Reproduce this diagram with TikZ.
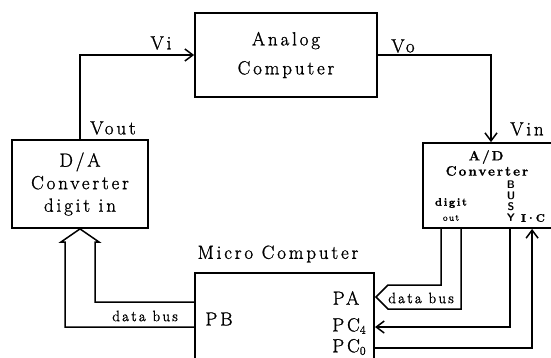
\documentclass[tikz,border=0pt]{standalone}
\usepackage{fontspec}
\setmainfont{Latin Modern Roman}[LetterSpace=15,FakeBold=1.2]
\usetikzlibrary{arrows.meta}
\newcommand\portsub[1]{\raisebox{-2.5pt}{\fontsize{12}{12}\selectfont#1}}
\tikzset{
  box/.style={draw,line width=1.8pt,inner sep=0pt},
  wire/.style={line width=1.5pt,line join=miter},
  sig/.style={wire,-{Straight Barb[length=8pt,width=12pt,line width=1.5pt]}},
  lab/.style={inner sep=0pt,font=\fontsize{19}{22}\selectfont},
  buslab/.style={inner sep=0pt,font=\fontsize{15}{17}\selectfont},
  adlab/.style={inner sep=0pt,font=\fontsize{13.5}{15}\selectfont\bfseries}
}

\begin{document}
\begin{tikzpicture}[x=1pt,y=-1pt]
\useasboundingbox[fill=white] (0,0) rectangle (551,357);
\clip (0,0) rectangle (551,357);

\node[box,lab,align=center,minimum width=182,minimum height=84] (ana) at (286,55) {Analog\\[7pt]Computer};
\node[box,lab,align=center,minimum width=136,minimum height=88] (da) at (80,184) {D/A\\[0.5pt]Converter\\[0.5pt]digit in};
\node[box,minimum width=136,minimum height=85] (ad) at (491,185.5) {};
\node[box,minimum width=179,minimum height=147] (mc) at (284.5,346.5) {};

% text of the A/D box
\node[adlab] (adname) at (486,157) {A/D};
\node[adlab] (adconv) at (487,171) {Converter};
\node[adlab,font=\fontsize{11}{12}\selectfont\bfseries] (dig) at (451,203) {digit};
\node[adlab,font=\fontsize{9}{10}\selectfont] (dout) at (451,218) {out};
\foreach \ch [count=\i] in {B,U,S,Y}
  \node[inner sep=0pt,font=\fontsize{11}{12}\selectfont\sffamily\bfseries] (busy\i) at (511,{174+11*\i}) {\ch};
\node[adlab,font=\fontsize{11}{12}\selectfont\bfseries\addfontfeature{LetterSpace=0}] (ic) at (533,218) {I·C};

\node[lab] (mclab) at (278,254) {Micro Computer};
\node[lab] (vi) at (161,43) {Vi};
\node[lab] (vo) at (403,46) {Vo};
\node[lab] (vout) at (113,128) {Vout};
\node[lab] (vin) at (527,129) {Vin};
\node[lab] (pa) at (346,298) {PA};
\node[lab] (pc4) at (349,326) {PC\portsub{4}};
\node[lab] (pc0) at (349,347) {PC\portsub{0}};
\node[lab] (pb) at (219,319) {PB};
\node[buslab] (busl) at (145,316) {data bus};
\node[buslab] (busr) at (421,298) {data bus};

\coordinate (pbtop) at (195,302);
\coordinate (pbbot) at (195,327);
\coordinate (patip) at (376,297);
\coordinate (pc4in) at (375,327);
\coordinate (pc0out) at (374,348);

\draw[sig] (da.north) |- (ana.west);
\draw[sig] (ana.east) -| (ad.north);
\draw[wire] (pbbot) -| (65,242) -- (61,242) -- (da.south) -- (99,242) -- (95,242) |- (pbtop);
\draw[wire] ([xshift=19pt]ad.south west) |- (388,285) -- (patip) -- (388,309) -| ([xshift=39pt]ad.south west);
\draw[sig] ([xshift=88pt]ad.south west) |- (pc4in);
\draw[sig] (pc0out) -| ([xshift=110pt]ad.south west);
\end{tikzpicture}
\end{document}
